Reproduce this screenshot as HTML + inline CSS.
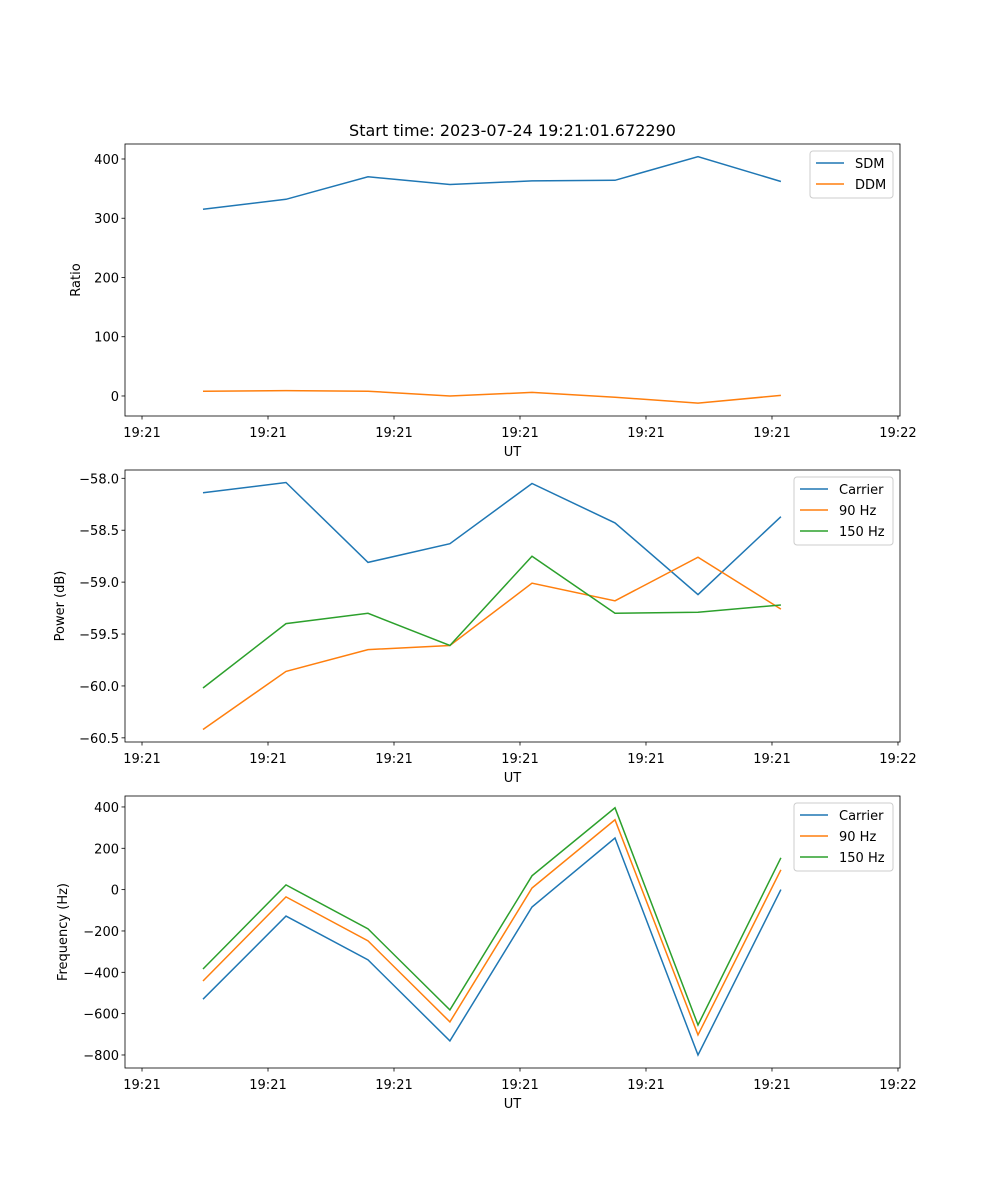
<!DOCTYPE html>
<html><head><meta charset="utf-8"><style>
body{margin:0;background:#fff}
svg{display:block;font-family:"DejaVu Sans","Liberation Sans",sans-serif}
</style></head><body>
<svg id="fig" width="1000" height="1200" xmlns="http://www.w3.org/2000/svg">
<text x="512.5" y="136" font-size="16" text-anchor="middle">Start time: 2023-07-24 19:21:01.672290</text>
</svg>
<script>
const times = [4.84, 11.43, 17.94, 24.44, 30.95, 37.54, 44.13, 50.71];
const xTicks = [0, 10, 20, 30, 40, 50, 60];
const xTickLabels = ["19:21","19:21","19:21","19:21","19:21","19:21","19:22"];
const sdm = [315, 332, 370, 357, 363, 364, 404, 362];
const ddm = [8, 9, 8, 0, 6, -2, -12, 1];
const powCarrier = [-58.14, -58.04, -58.81, -58.63, -58.05, -58.43, -59.12, -58.37];
const pow90 = [-60.42, -59.86, -59.65, -59.61, -59.01, -59.18, -58.76, -59.26];
const pow150 = [-60.02, -59.40, -59.30, -59.61, -58.75, -59.30, -59.29, -59.22];
const frqCarrier = [-530, -128, -340, -732, -84, 250, -800, 0];
const frq90 = [-442, -35, -248, -640, 8, 338, -703, 96];
const frq150 = [-384, 23, -190, -582, 67, 396, -655, 154];
const yTicks1 = [0, 100, 200, 300, 400];
const yTicks2 = [-60.5, -60.0, -59.5, -59.0, -58.5, -58.0];
const yTicks3 = [-800, -600, -400, -200, 0, 200, 400];

const NS = "http://www.w3.org/2000/svg";
const svg = document.getElementById('fig');
function el(tag, attrs, parent){const e=document.createElementNS(NS,tag);for(const k in attrs)e.setAttribute(k,attrs[k]);(parent||svg).appendChild(e);return e;}
const L=125,R=900,xMin=-1.35,xMax=60.16;
const sx=t=>L+(t-xMin)/(xMax-xMin)*(R-L);
const C=["#1f77b4","#ff7f0e","#2ca02c"];

function panel(name, top, bot, yMin, yMax, yTicks, fmt, ylabel, series, labels, legW){
  const g=el('g',{});
  
  
  const sy=v=>bot-(v-yMin)/(yMax-yMin)*(bot-top);
  series.forEach((s,i)=>{
    const p=el('polyline',{points:s.map((v,j)=>sx(times[j]).toFixed(1)+','+sy(v).toFixed(1)).join(' '),fill:'none',stroke:C[i],'stroke-width':1.5},g);
    
    
  });
  el('rect',{x:L,y:top,width:R-L,height:bot-top,fill:'none',stroke:'#000','stroke-width':0.8},g);
  xTicks.forEach((t,i)=>{
    const x=sx(t);
    el('line',{x1:x,x2:x,y1:bot,y2:bot+3.5,stroke:'#000','stroke-width':0.8},g);
    const tx=el('text',{x:x,y:bot+21,'font-size':13,'text-anchor':'middle'},g);tx.textContent=xTickLabels[i];
    
    
  });
  const xl=el('text',{x:512.5,y:bot+40,'font-size':13,'text-anchor':'middle'},g);xl.textContent='UT';
  
  
  yTicks.forEach(v=>{
    const y=sy(v);
    el('line',{x1:L-3.5,x2:L,y1:y,y2:y,stroke:'#000','stroke-width':0.8},g);
    const tx=el('text',{x:L-6,y:y+5,'font-size':13,'text-anchor':'end'},g);tx.textContent=fmt(v);
    
    
  });
  const ylx=ylabel==='Ratio'?80:(ylabel==='Power (dB)'?64:67);
  const yl=el('text',{x:ylx,y:(top+bot)/2,'font-size':13,'text-anchor':'middle',transform:`rotate(-90 ${ylx} ${(top+bot)/2})`},g);yl.textContent=ylabel;
  
  
  const lx=R-7-legW, ly=top+7, lh=5+labels.length*21;
  const lg=el('g',{},g);
  
  
  el('rect',{x:lx,y:ly,width:legW,height:lh,rx:3,fill:'#fff','fill-opacity':0.8,stroke:'#ccc'},lg);
  labels.forEach((lab,i)=>{
    const y=ly+12+i*21;
    el('line',{x1:lx+6,x2:lx+34,y1:y,y2:y,stroke:C[i],'stroke-width':1.5},lg);
    const t=el('text',{x:lx+45,y:y+5,'font-size':13},lg);t.textContent=lab;
    
    
  });
}
const fmtMinus=s=>s.replace('-','\u2212');
panel('ratio-panel',144,416,-33.8,425.3,yTicks1,v=>fmtMinus(String(v)),'Ratio',[sdm,ddm],['SDM','DDM'],83);
panel('power-panel',470,742,-60.54,-57.92,yTicks2,v=>fmtMinus(v.toFixed(1)),'Power (dB)',[powCarrier,pow90,pow150],['Carrier','90 Hz','150 Hz'],99);
panel('frequency-panel',796,1068,-863,453,yTicks3,v=>fmtMinus(String(v)),'Frequency (Hz)',[frqCarrier,frq90,frq150],['Carrier','90 Hz','150 Hz'],99);
</script>
</body></html>
